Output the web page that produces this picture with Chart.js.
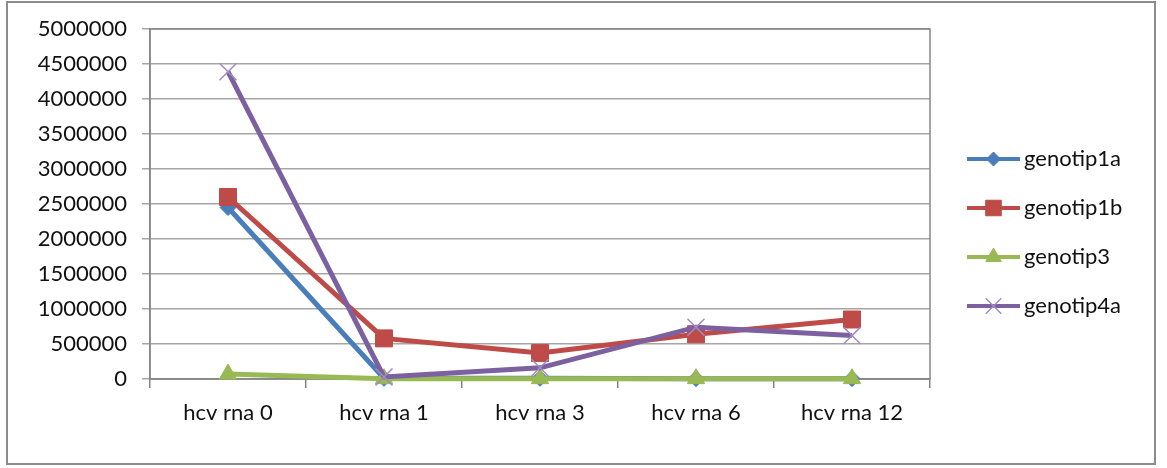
<!DOCTYPE html>
<html>
<head>
<meta charset="utf-8">
<script src="https://cdn.jsdelivr.net/npm/chart.js@4/dist/chart.umd.min.js"></script>
<style>
  html, body { margin: 0; padding: 0; background: #fff; }
  #wrap { position: relative; width: 1167px; height: 468px; }
  #frame { position: absolute; left: 6px; top: 1px; width: 1150px; height: 464px; border: 2px solid #8c8c8c; box-sizing: border-box; }
  canvas { position: absolute; left: 0; top: 0; }
</style>
</head>
<body>
<div id="wrap">
  <canvas id="chart" width="1167" height="468"></canvas>
  <div id="frame"></div>
</div>
<script>
// --- dados ---
const categories = ['hcv rna 0', 'hcv rna 1', 'hcv rna 3', 'hcv rna 6', 'hcv rna 12'];
const seriesNames = ['genotip1a', 'genotip1b', 'genotip3', 'genotip4a'];
const genotip1a = [2450000, 10000, 10000, 5000, 5000];
const genotip1b = [2600000, 580000, 370000, 640000, 850000];
const genotip3  = [70000, 5000, 5000, 5000, 5000];
const genotip4a = [4390000, 30000, 160000, 740000, 620000];
const yTicks = [0, 500000, 1000000, 1500000, 2000000, 2500000, 3000000, 3500000, 4000000, 4500000, 5000000];

const FONT = 'Lato, "Open Sans", sans-serif';
const colors = ['#4a7ebb', '#be4b48', '#98b954', '#7d60a0'];
const markers = ['rectRot', 'rect', 'triangle', 'crossRot'];
const radii = [8, 12, 10, 12];
const legendRadii = [7, 11, 9, 11];

const allData = [genotip1a, genotip1b, genotip3, genotip4a];

const datasets = allData.map((d, i) => ({
    label: seriesNames[i],
    data: d,
    borderColor: colors[i],
    backgroundColor: colors[i],
    pointBackgroundColor: colors[i],
    pointBorderColor: i === 3 ? '#a08cc0' : colors[i],
    pointBorderWidth: i === 3 ? 1.5 : 1,
    borderWidth: 5,
    pointStyle: markers[i],
    pointRadius: radii[i],
    pointHoverRadius: radii[i],
    tension: 0,
    clip: false,
    order: 4 - i
}));

// moldura da área de plotagem + legenda à direita
const plotFrame = {
    id: 'plotFrame',
    beforeDatasetsDraw(chart) {
        const { ctx, chartArea: a } = chart;
        ctx.save();
        ctx.strokeStyle = '#868686';
        ctx.lineWidth = 1.5;
        ctx.strokeRect(a.left, a.top, a.right - a.left, a.bottom - a.top);
        ctx.restore();
    },
    afterDraw(chart) {
        const { ctx } = chart;
        ctx.save();
        const x0 = 967, x1 = 1020;
        const ys = [159, 208, 257, 306];
        chart.data.datasets.forEach((ds, i) => {
            const y = ys[i];
            ctx.strokeStyle = ds.borderColor;
            ctx.lineWidth = 4;
            ctx.beginPath();
            ctx.moveTo(x0, y);
            ctx.lineTo(x1, y);
            ctx.stroke();
            ctx.fillStyle = ds.pointBackgroundColor;
            ctx.strokeStyle = ds.pointBorderColor;
            ctx.lineWidth = ds.pointBorderWidth;
            Chart.helpers.drawPoint(ctx, {
                pointStyle: ds.pointStyle,
                radius: legendRadii[i],
                borderWidth: ds.pointBorderWidth
            }, (x0 + x1) / 2, y);
            ctx.fillStyle = '#111';
            ctx.font = '22px ' + FONT;
            ctx.textBaseline = 'middle';
            ctx.textAlign = 'left';
            ctx.fillText(ds.label, 1024, y);
        });
        ctx.restore();
    }
};

new Chart(document.getElementById('chart'), {
    type: 'line',
    data: { labels: categories, datasets },
    plugins: [plotFrame],
    options: {
        responsive: false,
        animation: false,
        layout: { padding: { left: 0, top: 29, right: 237, bottom: 0 } },
        plugins: { legend: { display: false }, tooltip: { enabled: false } },
        scales: {
            x: {
                offset: true,
                grid: { offset: true, drawOnChartArea: false, tickLength: 9, color: '#868686', lineWidth: 1.5 },
                border: { color: '#868686', width: 1.5 },
                ticks: { color: '#111', font: { family: FONT, size: 22 }, padding: 12 },
                afterFit(scale) { scale.height = 89; }
            },
            y: {
                min: 0,
                max: 5000000,
                afterBuildTicks(scale) { scale.ticks = yTicks.map(v => ({ value: v })); },
                grid: { color: '#a6a6a6', lineWidth: 1.5, tickLength: 8 },
                border: { color: '#868686', width: 1.5 },
                ticks: { color: '#111', font: { family: FONT, size: 22 }, padding: 15, callback: v => String(v) },
                afterFit(scale) { scale.width = 150; }
            }
        }
    }
});
</script>
</body>
</html>
